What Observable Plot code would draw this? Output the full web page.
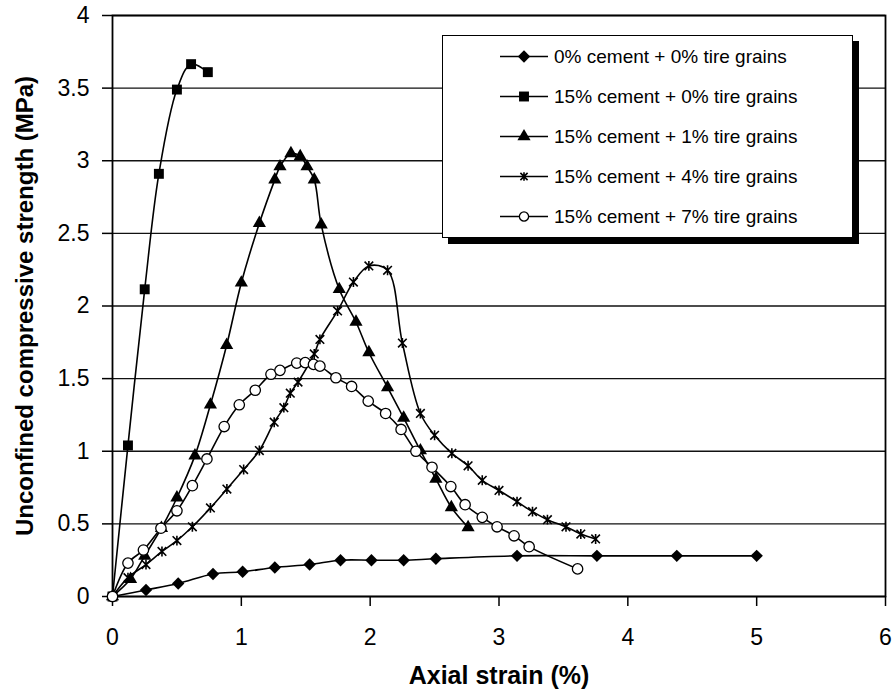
<!DOCTYPE html>
<html>
<head>
<meta charset="utf-8">
<script src="https://cdn.jsdelivr.net/npm/d3@7"></script>
<script src="https://cdn.jsdelivr.net/npm/@observablehq/plot@0.6"></script>
<style>
  body { margin: 0; background: #fff; font-family: "Liberation Sans", Arial, sans-serif; }
  #wrap { position: relative; width: 893px; height: 700px; }
  #legend { position: absolute; left: 442px; top: 35px; width: 409px; height: 201px;
            border: 1.5px solid #000; background: #fff; box-shadow: 6px 6px 0 #000; }
</style>
</head>
<body>
<div id="wrap"><div id="legend"></div></div>
<script>
// ---------- data ----------
const seriesNames = [
  "0% cement + 0% tire grains",
  "15% cement + 0% tire grains",
  "15% cement + 1% tire grains",
  "15% cement + 4% tire grains",
  "15% cement + 7% tire grains"
];

const strainA = [0, 0.26, 0.51, 0.78, 1.01, 1.26, 1.53, 1.77, 2.01, 2.26, 2.51, 3.14, 3.76, 4.38, 5.0];
const stressA = [0, 0.045, 0.09, 0.155, 0.17, 0.20, 0.22, 0.25, 0.25, 0.25, 0.26, 0.28, 0.28, 0.28, 0.28];

const strainB = [0, 0.12, 0.25, 0.36, 0.50, 0.61, 0.74];
const stressB = [0, 1.04, 2.115, 2.91, 3.49, 3.665, 3.61];

const strainC = [0, 0.14, 0.25, 0.38, 0.50, 0.64, 0.76, 0.886, 1.0, 1.14, 1.26, 1.30, 1.385, 1.457, 1.51, 1.566, 1.62, 1.76, 1.89, 1.99, 2.135, 2.26, 2.39, 2.51, 2.63, 2.76];
const stressC = [0, 0.12, 0.28, 0.47, 0.68, 0.97, 1.32, 1.73, 2.16, 2.57, 2.87, 2.96, 3.05, 3.03, 2.96, 2.87, 2.56, 2.115, 1.89, 1.68, 1.44, 1.23, 1.005, 0.81, 0.614, 0.476];

const strainD = [0, 0.12, 0.26, 0.384, 0.50, 0.62, 0.76, 0.888, 1.018, 1.14, 1.255, 1.33, 1.38, 1.44, 1.566, 1.61, 1.747, 1.87, 1.99, 2.135, 2.25, 2.39, 2.50, 2.634, 2.76, 2.87, 3.0, 3.14, 3.26, 3.376, 3.52, 3.635, 3.75];
const stressD = [0, 0.13, 0.22, 0.31, 0.385, 0.48, 0.61, 0.74, 0.874, 1.005, 1.20, 1.30, 1.40, 1.476, 1.67, 1.77, 1.966, 2.165, 2.276, 2.246, 1.745, 1.26, 1.11, 0.986, 0.90, 0.80, 0.73, 0.653, 0.584, 0.529, 0.48, 0.43, 0.396];

const strainE = [0, 0.12, 0.24, 0.376, 0.50, 0.62, 0.733, 0.867, 0.984, 1.108, 1.23, 1.30, 1.43, 1.496, 1.56, 1.61, 1.734, 1.856, 1.985, 2.12, 2.24, 2.355, 2.48, 2.626, 2.737, 2.87, 2.985, 3.117, 3.234, 3.61];
const stressE = [0, 0.23, 0.32, 0.47, 0.59, 0.763, 0.947, 1.17, 1.32, 1.42, 1.53, 1.557, 1.607, 1.61, 1.598, 1.586, 1.506, 1.446, 1.345, 1.26, 1.15, 1.0, 0.89, 0.757, 0.632, 0.545, 0.48, 0.418, 0.343, 0.19];

const xTicks = [0, 1, 2, 3, 4, 5, 6];
const yTicks = [0, 0.5, 1, 1.5, 2, 2.5, 3, 3.5, 4];
const xTitle = "Axial strain (%)";
const yTitle = "Unconfined compressive strength (MPa)";

// ---------- marker shapes ----------
const symDiamond = { draw(ctx, size) { const r = Math.sqrt(size / Math.PI);
  ctx.moveTo(0, -r); ctx.lineTo(r, 0); ctx.lineTo(0, r); ctx.lineTo(-r, 0); ctx.closePath(); } };
const symStar = { draw(ctx, size) { const r = Math.sqrt(size / Math.PI);
  ctx.moveTo(-r, -r); ctx.lineTo(r, r); ctx.moveTo(-r, r); ctx.lineTo(r, -r);
  ctx.moveTo(0, -r * 1.15); ctx.lineTo(0, r * 1.15); } };

const pairs = [[strainA, stressA], [strainB, stressB], [strainC, stressC], [strainD, stressD], [strainE, stressE]];
const styles = [
  { symbol: symDiamond, r: 6.2, fill: "#000", stroke: "none", strokeWidth: 0 },
  { symbol: "square", r: 5.6, fill: "#000", stroke: "none", strokeWidth: 0 },
  { symbol: "triangle", r: 4.9, fill: "#000", stroke: "none", strokeWidth: 0 },
  { symbol: symStar, r: 4.3, fill: "none", stroke: "#000", strokeWidth: 1.6 },
  { symbol: "circle", r: 5.2, fill: "#fff", stroke: "#000", strokeWidth: 1.3 }
];

const rows = pairs.map(([xs, ys], k) => xs.map((x, i) => ({ series: seriesNames[k], x, y: ys[i] })));

const seriesMarks = rows.flatMap((data, k) => [
  Plot.line(data, { x: "x", y: "y", curve: "catmull-rom", stroke: "#000", strokeWidth: 1.6 }),
  Plot.dot(data, { x: "x", y: "y", ...styles[k] })
]);

const chart = Plot.plot({
  width: 893, height: 700,
  marginLeft: 112, marginRight: 8, marginTop: 15, marginBottom: 104,
  style: { fontFamily: "'Liberation Sans', Arial, sans-serif", background: "#fff", color: "#000", overflow: "visible" },
  x: { domain: [0, 6] },
  y: { domain: [0, 4] },
  marks: [
    Plot.ruleY(yTicks, { stroke: "#111", strokeWidth: 1.4 }),
    Plot.frame({ stroke: "#000", strokeWidth: 1.8 }),
    Plot.axisX({ ticks: xTicks, tickSize: 10, tickPadding: 22, fontSize: 23, strokeWidth: 1.5, tickFormat: d => String(d), label: null }),
    Plot.axisY({ ticks: yTicks, tickSize: 10, tickPadding: 13, fontSize: 23, strokeWidth: 1.5, tickFormat: d => String(d), label: null }),
    ...seriesMarks,
    Plot.text([xTitle], { text: d => d, frameAnchor: "bottom", textAnchor: "middle", dy: 87, fontSize: 25, fontWeight: "bold" }),
    Plot.text([yTitle], { text: d => d, frameAnchor: "left", textAnchor: "middle", dx: -87, rotate: -90, fontSize: 24, fontWeight: "bold" })
  ]
});
document.getElementById("wrap").prepend(chart);

// ---------- legend (inside the plot area, with drop shadow) ----------
const leg = d3.select("#legend").append("svg").attr("width", 409).attr("height", 201);
seriesNames.forEach((name, k) => {
  const cy = 20.5 + k * 40;
  const g = leg.append("g");
  g.append("line").attr("x1", 57).attr("x2", 105).attr("y1", cy).attr("y2", cy)
    .attr("stroke", "#000").attr("stroke-width", 1.6);
  const st = styles[k];
  const type = typeof st.symbol === "string"
    ? { square: d3.symbolSquare, triangle: d3.symbolTriangle, circle: d3.symbolCircle }[st.symbol]
    : st.symbol;
  const rr = k === 3 ? 3.6 : k === 4 ? 4.6 : st.r;
  g.append("path").attr("transform", `translate(81,${cy})`)
    .attr("d", d3.symbol().type(type).size(Math.PI * rr * rr)())
    .attr("fill", st.fill).attr("stroke", st.stroke).attr("stroke-width", st.strokeWidth);
  g.append("text").attr("x", 111).attr("y", cy).attr("dy", "0.35em")
    .attr("font-size", 19).attr("font-family", "'Liberation Sans', Arial, sans-serif")
    .text(name);
});
</script>
</body>
</html>
